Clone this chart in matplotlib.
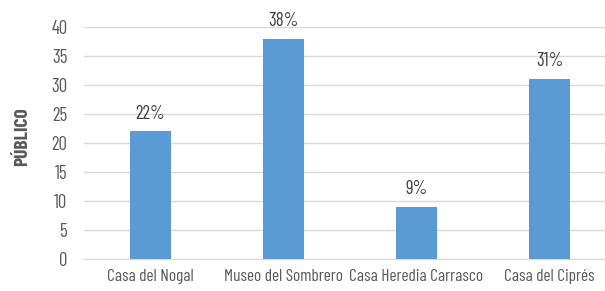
import matplotlib

matplotlib.use("Agg")
import matplotlib.pyplot as plt
from matplotlib import font_manager

categories = ["Casa del Nogal", "Museo del Sombrero", "Casa Heredia Carrasco", "Casa del Ciprés"]
publico = [22, 38, 9, 31]
labels = ["22%", "38%", "9%", "31%"]
y_ticks = [0, 5, 10, 15, 20, 25, 30, 35, 40]

names = {f.name for f in font_manager.fontManager.ttflist}
family = next((n for n in ["Barlow Condensed", "Archivo Narrow"] if n in names), "DejaVu Sans")
plt.rcParams["font.family"] = [family, "DejaVu Sans"]

text_color = "#595959"
bar_color = "#5B9BD5"

fig = plt.figure(figsize=(6.05, 2.91), dpi=100)
W, H = 605, 291
ax = fig.add_axes([84 / W, 1 - 259 / H, 521 / W, (259 - 27) / H])

x = list(range(len(categories)))
bars = ax.bar(x, publico, width=0.31, color=bar_color, zorder=3)
for b, lab in zip(bars, labels):
    ax.text(b.get_x() + b.get_width() / 2, b.get_height() + 1.5, lab,
            ha="center", va="bottom", fontsize=13.5, color="#404040")

ax.set_xlim(-0.5, -0.5 + 521 / 133)
ax.set_ylim(0, 40)
ax.set_yticks(y_ticks)
ax.set_xticks(x)
ax.set_xticklabels(categories)
ax.tick_params(axis="both", length=0, colors=text_color)
ax.tick_params(axis="x", pad=7, labelsize=12.5)
ax.tick_params(axis="y", pad=12, labelsize=13.5)
ax.grid(axis="y", color="#d9d9d9", lw=1, zorder=0)
for s in ["top", "right", "left"]:
    ax.spines[s].set_visible(False)
ax.spines["bottom"].set_color("#d9d9d9")
ax.set_ylabel("PÚBLICO", fontsize=14, fontweight="bold", color=text_color)
ax.yaxis.set_label_coords(-0.102, 0.528)

fig.savefig("out.png", dpi=100, facecolor="white")
